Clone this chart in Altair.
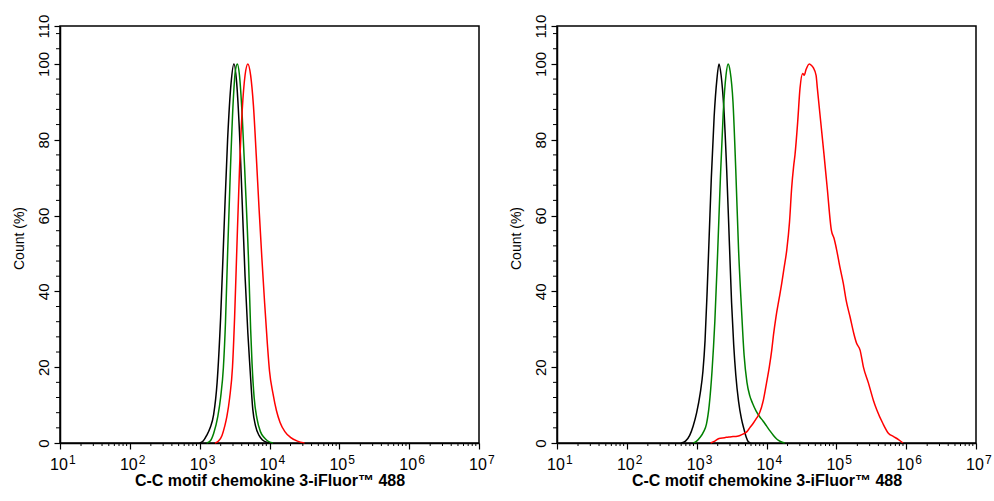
import altair as alt
import pandas as pd

# ---- histogram traces: log10 fluorescence intensity and % of max count ----
# Left panel
black_l_exp = [3.00, 3.05, 3.10, 3.15, 3.20, 3.25, 3.30, 3.35, 3.40, 3.45, 3.49, 3.53, 3.57,
               3.61, 3.65, 3.69, 3.72, 3.76, 3.80, 3.85, 3.90, 3.96, 4.05]
black_l_cnt = [0, 0.5, 2, 4, 7.5, 16, 33, 57, 80, 95, 100, 95, 82,
               63, 44, 29, 20, 9, 4.5, 2, 0.8, 0.2, 0]

green_l_exp = [3.10, 3.15, 3.20, 3.26, 3.30, 3.34, 3.37, 3.40, 3.44, 3.48, 3.51, 3.54, 3.57,
               3.61, 3.65, 3.70, 3.73, 3.75, 3.78, 3.82, 3.87, 3.92, 3.97, 4.05]
green_l_cnt = [0, 0.5, 2.5, 7, 12, 20, 32, 50, 72, 90, 98, 100, 97,
               86, 70, 48, 30, 21, 12, 6.5, 3, 1.5, 0.6, 0]

red_l_exp = [3.22, 3.27, 3.32, 3.36, 3.39, 3.43, 3.47, 3.50, 3.53, 3.57, 3.61, 3.65, 3.69,
             3.73, 3.77, 3.81, 3.85, 3.89, 3.93, 3.97, 4.00, 4.05, 4.10, 4.15, 4.22, 4.30,
             4.40, 4.50]
red_l_cnt = [0, 0.5, 2, 4.5, 7, 12, 20, 33, 50, 72, 88, 97, 100,
             97, 89, 76, 62, 49, 37, 26, 19, 13, 8.5, 5.5, 3, 1.5,
             0.5, 0]

# Right panel
black_r_exp = [2.78, 2.84, 2.90, 2.95, 3.00, 3.05, 3.09, 3.12, 3.15, 3.18, 3.21, 3.25, 3.29,
               3.32, 3.35, 3.39, 3.43, 3.47, 3.50, 3.53, 3.56, 3.60, 3.64, 3.68, 3.71, 3.74,
               3.77]
black_r_cnt = [0, 0.5, 2, 4.5, 8, 13, 19, 27, 40, 55, 70, 86, 96,
               100, 97, 88, 72, 52, 37, 26, 18, 11, 6.5, 3.5, 1.5, 0.3,
               0]

green_r_exp = [2.95, 3.00, 3.05, 3.10, 3.14, 3.18, 3.22, 3.26, 3.30, 3.34, 3.38, 3.42, 3.45,
               3.48, 3.52, 3.56, 3.60, 3.64, 3.68, 3.72, 3.76, 3.80, 3.85, 3.90, 3.95, 4.00,
               4.05, 4.10, 4.15, 4.20, 4.26]
green_r_cnt = [0, 0.5, 1.5, 3, 5, 10, 19, 32, 50, 70, 87, 97, 100,
               98, 90, 72, 51, 36, 23, 16, 12.5, 10.5, 8.5, 7, 5.8, 4.5,
               3.2, 2, 1, 0.4, 0]

red_r_exp = [3.20, 3.26, 3.32, 3.40, 3.46, 3.52, 3.58, 3.62, 3.67, 3.72, 3.76, 3.81, 3.86,
             3.90, 3.955, 4.00, 4.04, 4.075, 4.10, 4.136, 4.18, 4.218, 4.25, 4.29, 4.33,
             4.36, 4.388, 4.408, 4.447, 4.48, 4.518, 4.54, 4.566, 4.613, 4.645, 4.67, 4.71,
             4.728, 4.776, 4.824, 4.87, 4.93, 4.967, 5.005, 5.05, 5.10, 5.14, 5.196, 5.25,
             5.29, 5.34, 5.387, 5.46, 5.53, 5.58, 5.665, 5.745, 5.82, 5.89, 5.955]
red_r_cnt = [0, 0.5, 1.2, 1.4, 1.6, 1.7, 1.8, 2.0, 2.4, 3.0, 4.0, 5.2, 6.6,
             7.9, 11.3, 15.8, 20, 24.5, 28.5, 33.3, 38, 42.1, 46, 50.9, 58.4,
             67.2, 72.9, 76, 84.8, 93.6, 97.5, 97, 98.5, 100, 99.6, 99, 97,
             93.6, 84.8, 76, 67.2, 56, 54, 50.9, 46.5, 42.1, 37.7, 33.3, 28.9,
             26.3, 24.5, 20.1, 15.8, 11.3, 8.7, 5.2, 2.6, 1.7, 0.9, 0]

samples = ["Blank control", "Isotype control", "CCL3 antibody"]
colors = ["#000000", "#008000", "#ff0000"]

decades = [1, 2, 3, 4, 5, 6, 7]
y_major = [0, 20, 40, 60, 80, 100, 110]
y_minor = [v for v in range(4, 110, 4) if v % 20 != 0]
x_minor = [k * 10 ** n for n in range(1, 7) for k in range(2, 10)]

x_title = "C-C motif chemokine 3-iFluor\u2122 488"
y_title = "Count  (%)"

W, H = 419, 417


def traces(groups):
    frames = []
    for name, exps, cnts in groups:
        frames.append(pd.DataFrame({
            "intensity": [10 ** e for e in exps],
            "count": cnts,
            "sample": name,
        }))
    return pd.concat(frames, ignore_index=True)


x_enc = alt.X(
    "intensity:Q",
    scale=alt.Scale(type="log", domain=[10, 1e7], nice=False),
    axis=alt.Axis(values=[10 ** d for d in decades], labels=False, tickSize=6,
                  title=x_title, titleFontSize=16, titleFontWeight="bold",
                  titleBaseline="alphabetic", titleY=42, grid=False),
)
y_enc = alt.Y(
    "count:Q",
    scale=alt.Scale(domain=[0, 110], nice=False, zero=True),
    axis=alt.Axis(values=y_major, tickSize=6, labelAngle=270, labelAlign="center",
                  labelBaseline="alphabetic", labelPadding=6, labelFontSize=15,
                  title=y_title, titleFontSize=14, titleFontWeight="normal",
                  titleAngle=270, titleAlign="center", titleBaseline="alphabetic",
                  titleX=-37, titleY=212, grid=False),
)


def panel(df):
    lines = alt.Chart(df).mark_line(strokeWidth=1.5, interpolate="monotone").encode(
        x=x_enc,
        y=y_enc,
        color=alt.Color("sample:N", scale=alt.Scale(domain=samples, range=colors), legend=None),
    )
    xminor = alt.Chart(pd.DataFrame({"intensity": x_minor})).mark_rule(
        color="black", strokeWidth=1
    ).encode(x=x_enc, y=alt.value(H), y2=alt.value(H + 3))
    yminor = alt.Chart(pd.DataFrame({"count": y_minor})).mark_rule(
        color="black", strokeWidth=1
    ).encode(y=y_enc, x=alt.value(0), x2=alt.value(-4))
    lab_df = pd.DataFrame({"intensity": [10 ** d for d in decades],
                           "base": ["10"] * len(decades),
                           "exp": [str(d) for d in decades]})
    base_txt = alt.Chart(lab_df).mark_text(
        align="center", baseline="alphabetic", fontSize=16, dx=-1, color="black"
    ).encode(x=x_enc, y=alt.value(H + 27), text="base:N")
    exp_txt = alt.Chart(lab_df).mark_text(
        align="left", baseline="alphabetic", fontSize=12, dx=9, color="black"
    ).encode(x=x_enc, y=alt.value(H + 21), text="exp:N")
    return alt.layer(lines, xminor, yminor, base_txt, exp_txt).properties(width=W, height=H)


left = panel(traces([
    (samples[0], black_l_exp, black_l_cnt),
    (samples[1], green_l_exp, green_l_cnt),
    (samples[2], red_l_exp, red_l_cnt),
]))
right = panel(traces([
    (samples[0], black_r_exp, black_r_cnt),
    (samples[1], green_r_exp, green_r_cnt),
    (samples[2], red_r_exp, red_r_cnt),
]))

chart = alt.hconcat(left, right, spacing=78, bounds="flush").properties(
    padding={"left": 11, "top": 13, "right": 0, "bottom": 0},
    background="white",
).configure(
    font="Liberation Sans",
).configure_view(
    stroke="black", strokeWidth=1.5,
).configure_axis(
    domainColor="black", domainWidth=1.5, tickColor="black", tickWidth=1.2,
    labelColor="black", titleColor="black", labelFont="Liberation Sans",
    titleFont="Liberation Sans",
)

chart.save("out.html", embed_options={"renderer": "svg", "actions": False})
